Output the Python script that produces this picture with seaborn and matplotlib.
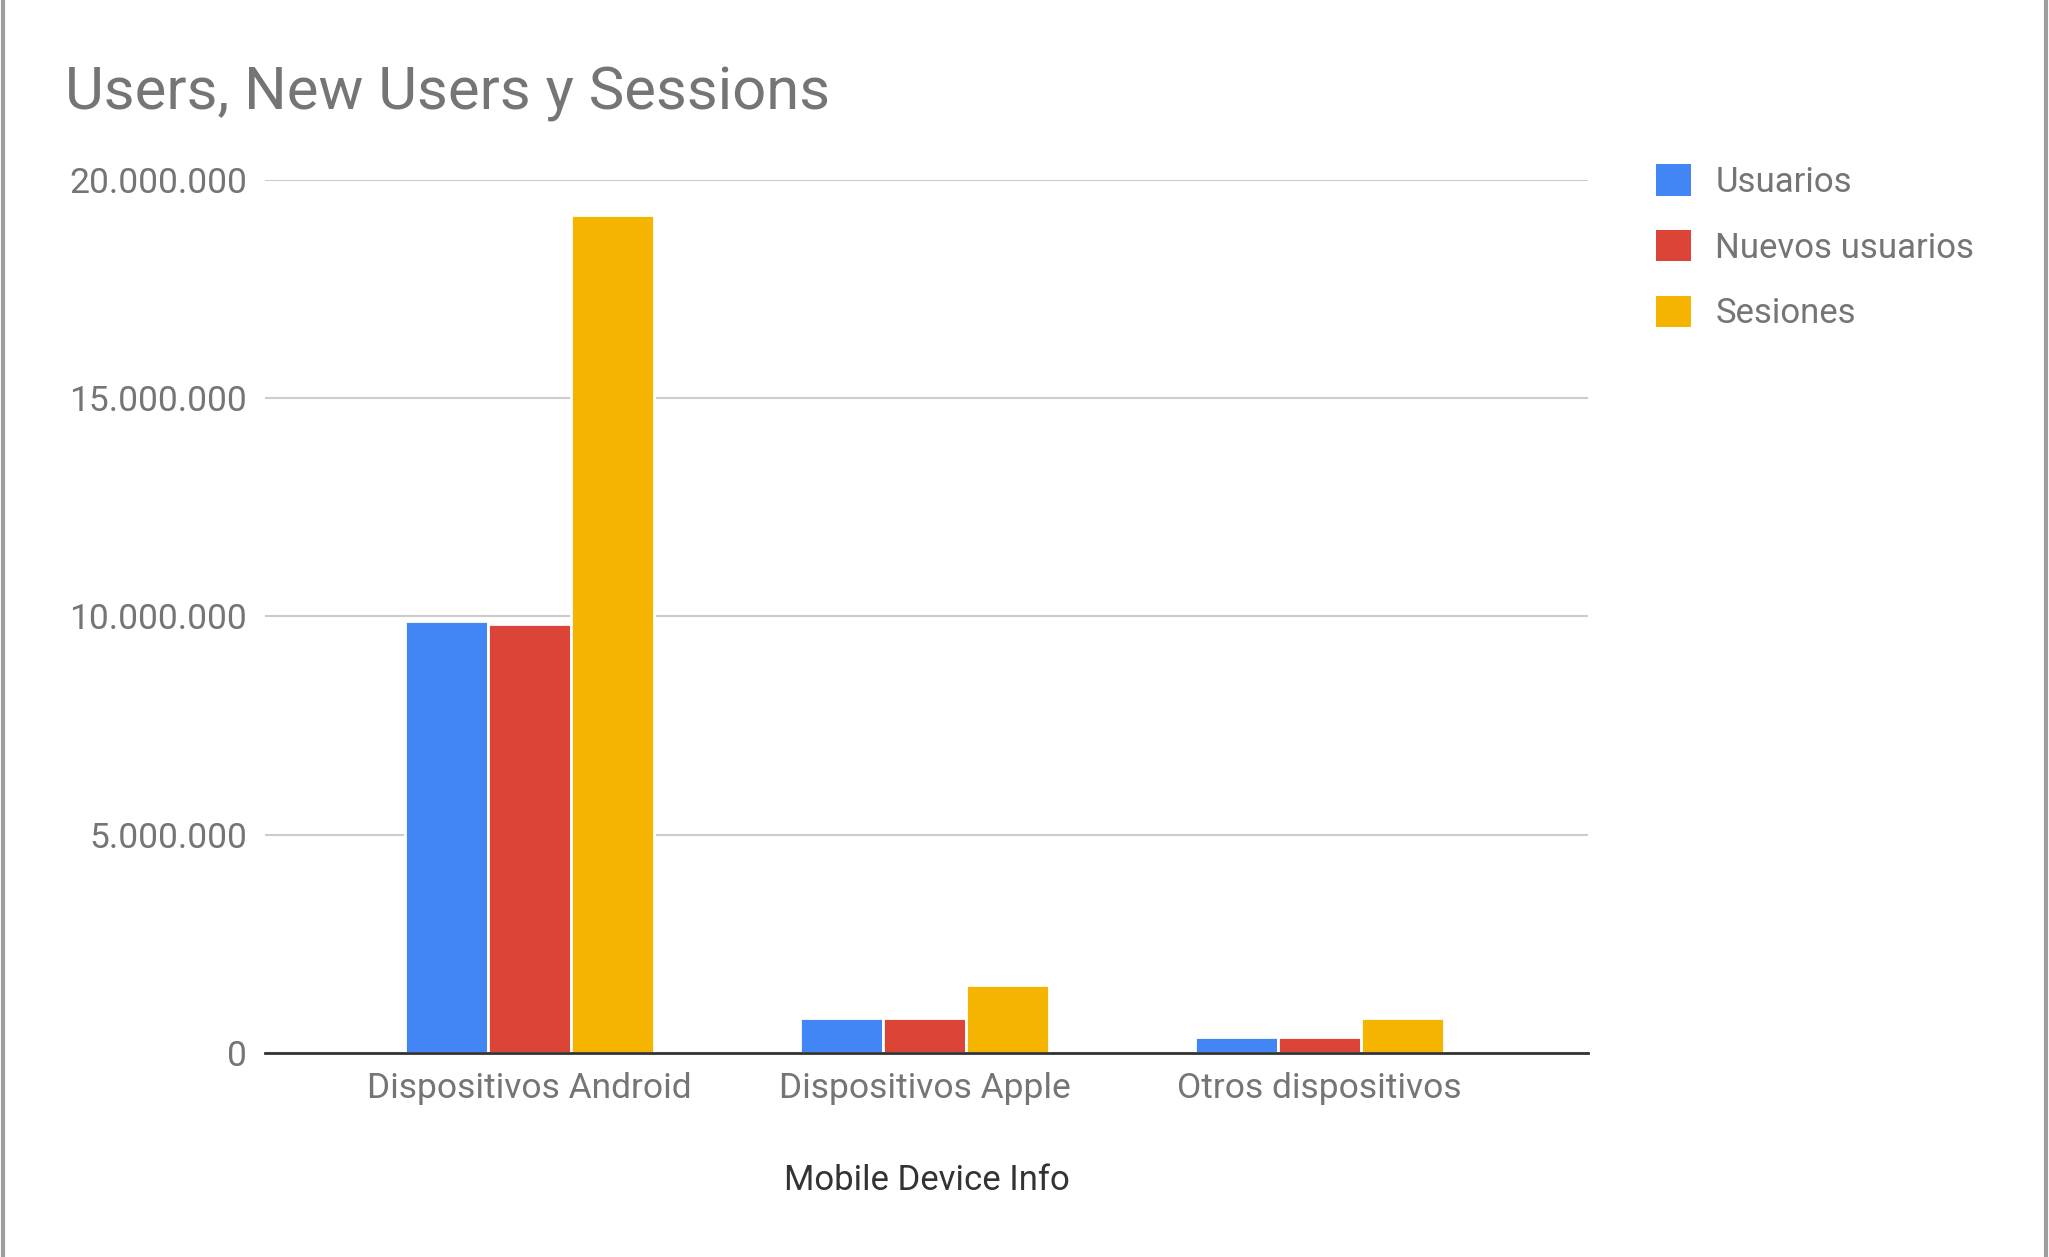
import pandas as pd
import seaborn as sns
import matplotlib.pyplot as plt
from matplotlib.patches import Patch
from matplotlib.ticker import FuncFormatter, MultipleLocator
from matplotlib.lines import Line2D

# Data
devices = ["Dispositivos Android", "Dispositivos Apple", "Otros dispositivos"]
series = ["Usuarios", "Nuevos usuarios", "Sesiones"]
usuarios = [9890000, 800000, 370000]
nuevos_usuarios = [9820000, 795000, 365000]
sesiones = [19200000, 1560000, 800000]
colors = ["#4285f4", "#db4437", "#f4b400"]

df = pd.DataFrame({
    "device": devices * 3,
    "serie": [s for s in series for _ in devices],
    "value": usuarios + nuevos_usuarios + sesiones,
})

sns.set_theme(style="white")
plt.rcParams["font.family"] = ["Roboto", "DejaVu Sans"]

fig = plt.figure(figsize=(20.49, 12.57), dpi=100)
ax = fig.add_axes([0.1294, 0.1623, 0.775 - 0.1294, 0.8568 - 0.1623])

sns.barplot(data=df, x="device", y="value", hue="serie", palette=colors,
            saturation=1, width=0.63, edgecolor="white", linewidth=2,
            ax=ax, legend=False)

ax.set_ylim(0, 20000000)
ax.set_xlim(-0.67, 2.68)
ax.yaxis.set_major_locator(MultipleLocator(5000000))
ax.yaxis.set_major_formatter(FuncFormatter(lambda v, p: f"{int(v):,}".replace(",", ".")))
ax.grid(axis="y", color="#cccccc", linewidth=1.5)
ax.set_axisbelow(True)
for s in ["top", "right", "left"]:
    ax.spines[s].set_visible(False)
ax.spines["bottom"].set_color("#333333")
ax.spines["bottom"].set_linewidth(2)
ax.spines["bottom"].set_zorder(5)

ax.tick_params(axis="y", length=0, pad=13, labelsize=25.5, labelcolor="#757575")
ax.tick_params(axis="x", length=0, pad=14, labelsize=25.5, labelcolor="#757575")
ax.set_xlabel("Mobile Device Info", fontsize=25, color="#333333", labelpad=42)
ax.set_ylabel("")

fig.text(0.0317, 0.926, "Users, New Users y Sessions", fontsize=43,
         color="#757575", ha="left", va="center")

handles = [Patch(facecolor=c, edgecolor="none") for c in colors]
fig.legend(handles, series, loc="upper left", bbox_to_anchor=(0.793, 0.894),
           frameon=False, fontsize=25, handlelength=1.0, handleheight=1.0,
           handletextpad=0.7, labelspacing=0.9, labelcolor="#757575")

# light gray frame at the left and right edges
fig.add_artist(Line2D([0.0015, 0.0015], [0, 1], color="#9e9e9e", linewidth=3,
                      transform=fig.transFigure))
fig.add_artist(Line2D([0.9985, 0.9985], [0, 1], color="#9e9e9e", linewidth=3,
                      transform=fig.transFigure))

fig.savefig("out.png", dpi=100)
